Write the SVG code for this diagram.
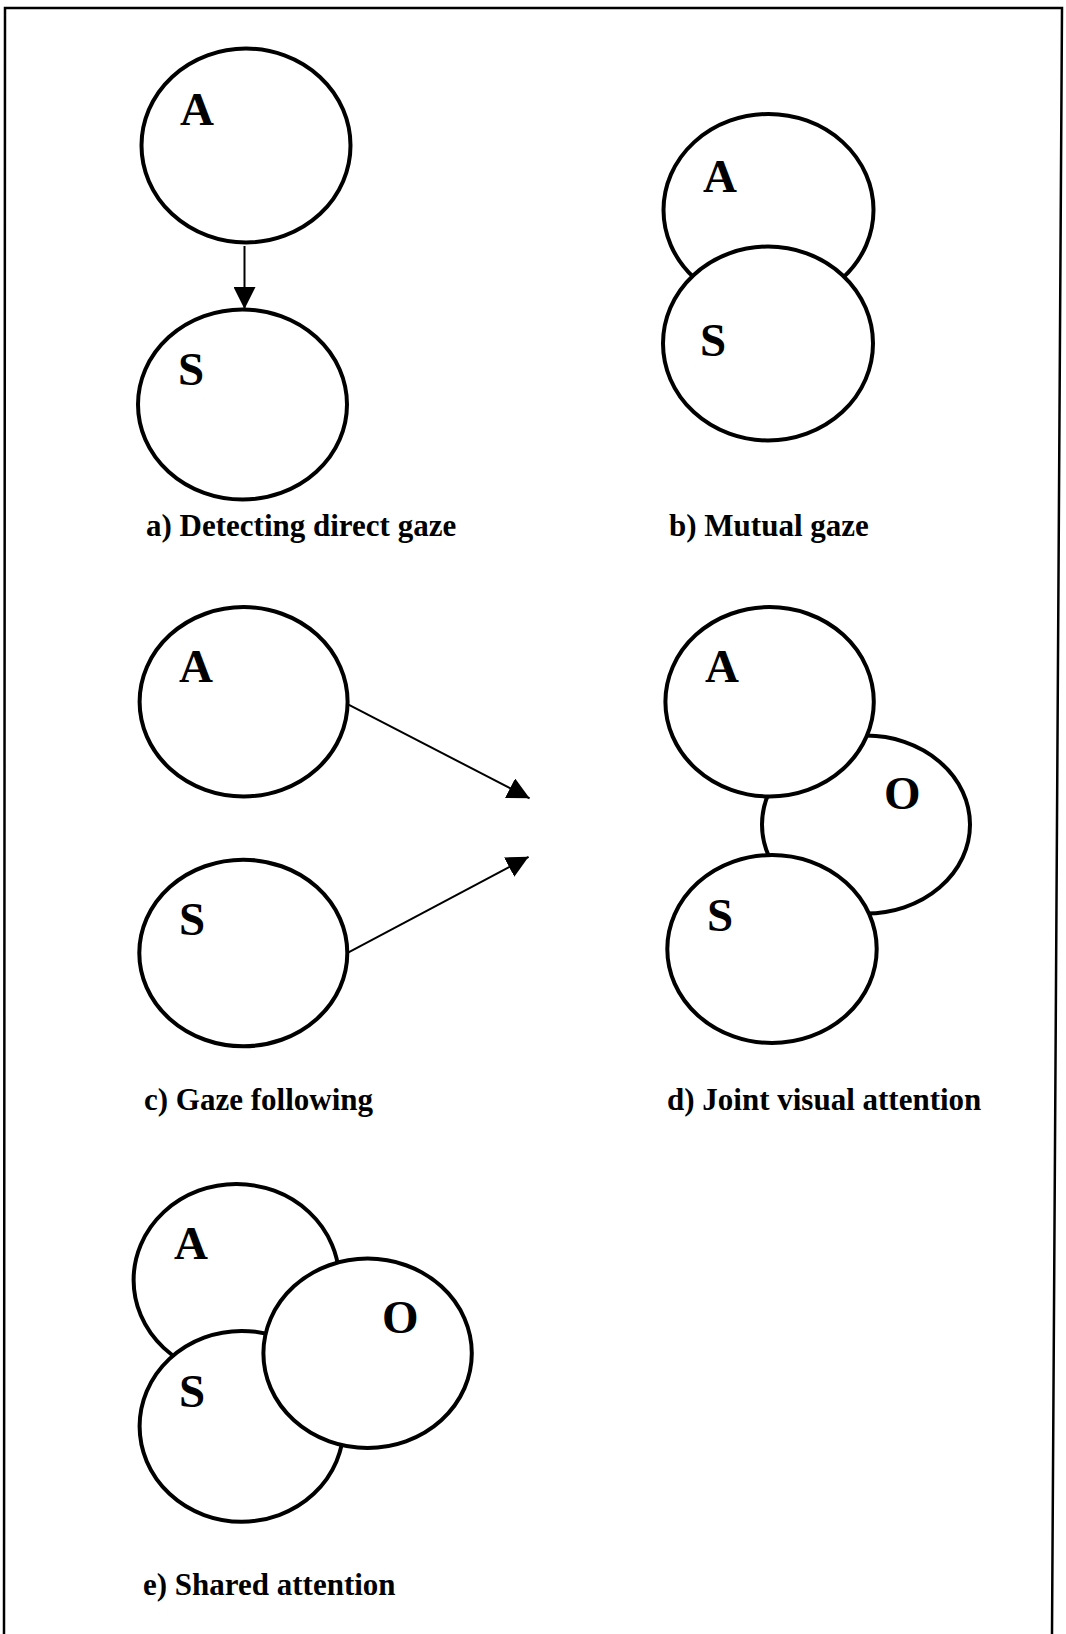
<svg xmlns="http://www.w3.org/2000/svg" width="1066" height="1634" viewBox="0 0 1066 1634">
<style>
.n{fill:#fff;stroke:#000;stroke-width:4}
.l{font-family:"Liberation Serif","Times New Roman",serif;font-weight:bold;font-size:47px;fill:#000}
.c{font-family:"Liberation Serif","Times New Roman",serif;font-weight:bold;font-size:31px;fill:#000}
.e{stroke:#000;stroke-width:2;fill:none}
</style>
<defs>
<marker id="ah" viewBox="0 0 22 22" markerWidth="22" markerHeight="22" refX="22" refY="11" orient="auto" markerUnits="userSpaceOnUse">
<path d="M0,0 L22,11 L0,22 z" fill="#000"/>
</marker>
</defs>
<rect width="1066" height="1634" fill="#fff"/>
<path d="M4,1634 L5,8 L1062,8 L1052,1634" fill="none" stroke="#000" stroke-width="2.5"/>

<g id="a">
<g id="a-A"><ellipse class="n" cx="246" cy="145.5" rx="104.5" ry="97"/><text class="l" x="180" y="125">A</text></g>
<g id="a-S"><ellipse class="n" cx="242.5" cy="404.5" rx="104.5" ry="95"/><text class="l" x="178" y="385">S</text></g>
<text class="c" x="146" y="536">a) Detecting direct gaze</text>
</g>

<g id="b">
<g id="b-A"><ellipse class="n" cx="768.5" cy="210" rx="105" ry="96"/><text class="l" x="703" y="192">A</text></g>
<g id="b-S"><ellipse class="n" cx="768" cy="343.5" rx="105" ry="97"/><text class="l" x="700" y="356">S</text></g>
<text class="c" x="669" y="536">b) Mutual gaze</text>
</g>

<g id="c">
<g id="c-A"><ellipse class="n" cx="243.6" cy="701.8" rx="104" ry="94.7"/><text class="l" x="179" y="682">A</text></g>
<g id="c-S"><ellipse class="n" cx="243.3" cy="953" rx="104" ry="93.3"/><text class="l" x="179" y="935">S</text></g>
<text class="c" x="144" y="1110">c) Gaze following</text>
</g>

<g id="d">
<g id="d-O"><ellipse class="n" cx="866" cy="824.6" rx="104" ry="89"/><text class="l" x="884" y="809">O</text></g>
<g id="d-A"><ellipse class="n" cx="769.6" cy="701.8" rx="104.2" ry="94.7"/><text class="l" x="705" y="682">A</text></g>
<g id="d-S"><ellipse class="n" cx="772" cy="949" rx="104.7" ry="94"/><text class="l" x="707" y="931">S</text></g>
<text class="c" x="667" y="1110">d) Joint visual attention</text>
</g>

<g id="e">
<g id="e-A"><ellipse class="n" cx="236.4" cy="1280" rx="102.8" ry="96"/><text class="l" x="174" y="1259">A</text></g>
<g id="e-S"><ellipse class="n" cx="241.6" cy="1426.3" rx="102" ry="95.4"/><text class="l" x="179" y="1407">S</text></g>
<g id="e-O"><ellipse class="n" cx="367.6" cy="1353.3" rx="104.2" ry="94.7"/><text class="l" x="382" y="1333">O</text></g>
<text class="c" x="143" y="1595">e) Shared attention</text>
</g>

<g id="connectors">
<line class="e" x1="244.5" y1="246" x2="244.5" y2="309" marker-end="url(#ah)"/>
<line class="e" x1="348.5" y1="704.6" x2="529.6" y2="798.3" marker-end="url(#ah)"/>
<line class="e" x1="347.1" y1="953.2" x2="528.6" y2="856.8" marker-end="url(#ah)"/>
</g>
</svg>
